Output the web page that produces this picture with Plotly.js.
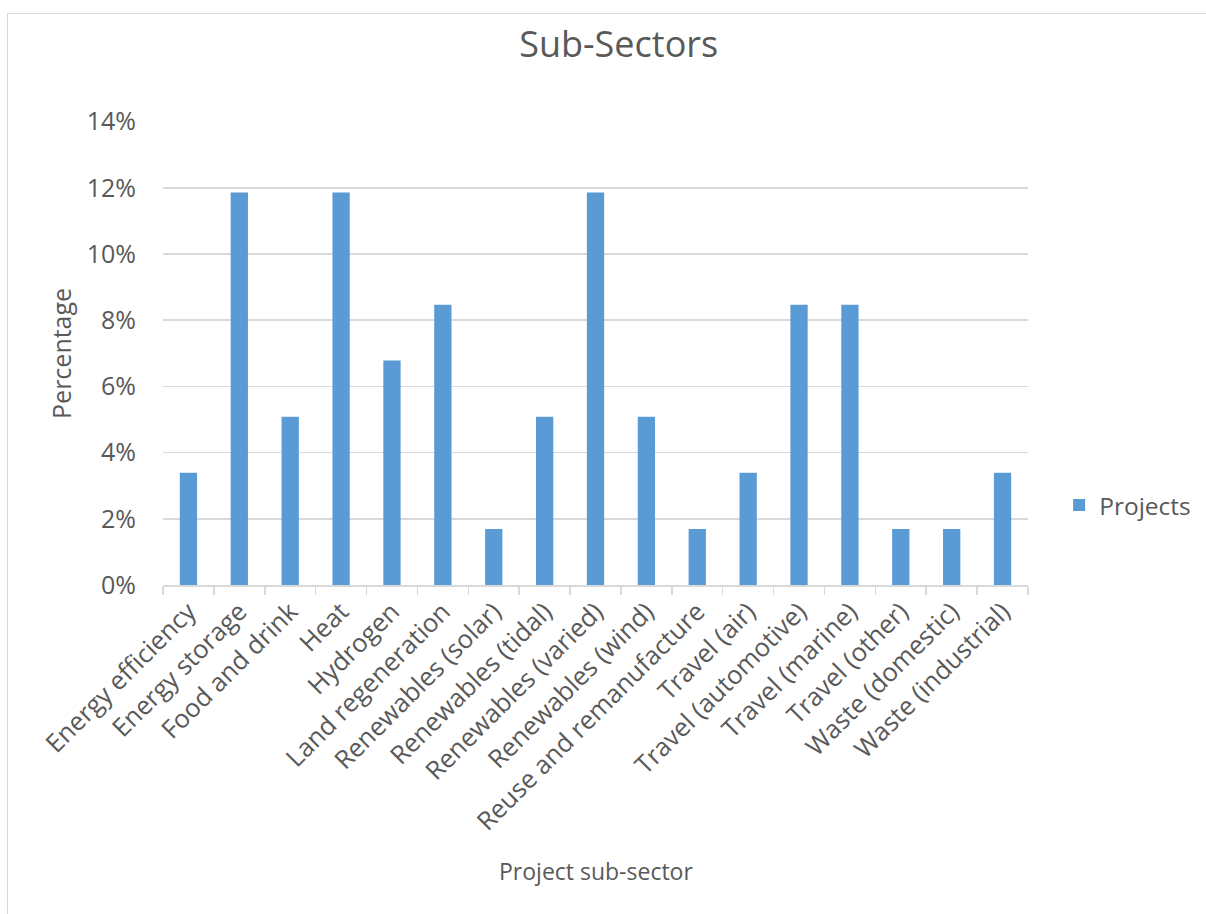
<!DOCTYPE html>
<html><head><meta charset="utf-8">
<script src="https://cdn.plot.ly/plotly-3.0.1.min.js"></script>
<style>
html,body{margin:0;padding:0;background:#fff;}
#frame{position:absolute;left:7px;top:13px;width:1230px;height:940px;border:1.5px solid #d9d9d9;box-sizing:border-box;}
#chart{position:absolute;left:0;top:0;width:1206px;height:914px;}
</style></head>
<body>
<div id="frame"></div>
<div id="chart"></div>
<script>
const categories = ["Energy efficiency","Energy storage","Food and drink","Heat","Hydrogen","Land regeneration","Renewables (solar)","Renewables (tidal)","Renewables (varied)","Renewables (wind)","Reuse and remanufacture","Travel (air)","Travel (automotive)","Travel (marine)","Travel (other)","Waste (domestic)","Waste (industrial)"];
const projects = [0.0339,0.1186,0.0508,0.1186,0.0678,0.0847,0.0169,0.0508,0.1186,0.0508,0.0169,0.0339,0.0847,0.0847,0.0169,0.0169,0.0339];
const yTicks = [0,0.02,0.04,0.06,0.08,0.10,0.12,0.14];
const yTickText = ["0%","2%","4%","6%","8%","10%","12%","14%"];

const font = "Open Sans, sans-serif";
const grey = "#595959";
const trace = {type:"bar", x:categories, y:projects, name:"Projects", marker:{color:"#5b9bd5"}, showlegend:true};
const layout = {
  width:1206, height:914,
  paper_bgcolor:"rgba(0,0,0,0)", plot_bgcolor:"rgba(0,0,0,0)",
  margin:{l:163, r:178, t:121, b:329, autoexpand:false},
  font:{family:font, color:grey},
  title:{text:"Sub-Sectors", font:{size:36, color:grey, family:font}, x:0.513, xanchor:"center", y:0.951, yanchor:"middle", xref:"container", yref:"container"},
  bargap:0.66,
  xaxis:{tickangle:-45, tickfont:{size:25.5, color:grey}, showline:true, linecolor:"#d9d9d9", linewidth:1.5,
         ticks:"outside", tickson:"boundaries", ticklen:8, tickcolor:"#d9d9d9", tickwidth:1.5, showgrid:false, automargin:false},
  yaxis:{range:[0,0.1402], tickvals:yTicks, ticktext:yTickText, tickfont:{size:25, color:grey}, showgrid:true, gridcolor:"#d9d9d9", gridwidth:1.5,
         zeroline:false, showline:false, ticks:"", ticklabelstandoff:26, automargin:false},
  legend:{x:1.036, xanchor:"left", y:0.172, yanchor:"middle", font:{size:24.5, color:grey}, bgcolor:"rgba(0,0,0,0)", itemwidth:30},
  annotations:[
    {text:"Percentage", xref:"paper", yref:"paper", x:-0.118, y:0.5, xanchor:"center", yanchor:"middle", textangle:-90, showarrow:false, font:{size:25, color:grey}},
    {text:"Project sub-sector", xref:"paper", yref:"paper", x:0.5, y:-0.617, xanchor:"center", yanchor:"middle", showarrow:false, font:{size:23, color:grey}}
  ]
};
Plotly.newPlot("chart",[trace],layout,{displayModeBar:false, staticPlot:true});
</script>
</body></html>
